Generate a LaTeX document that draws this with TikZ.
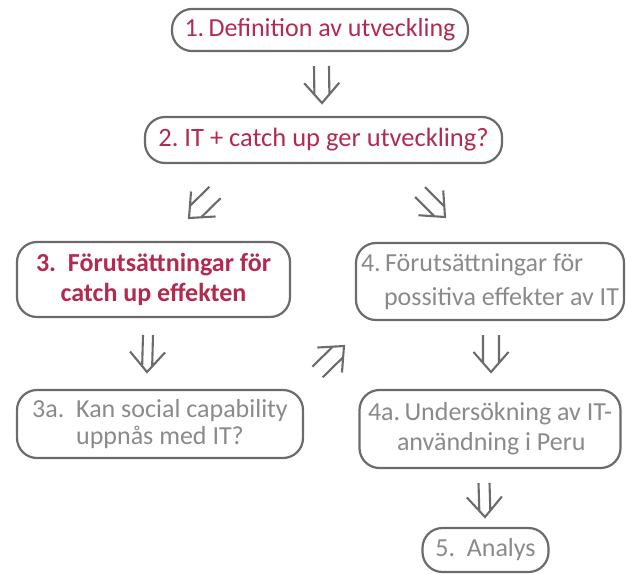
\documentclass[tikz,border=0pt]{standalone}
\usepackage{fontspec}
\setmainfont{Carlito}
\usetikzlibrary{decorations.markings}

\definecolor{framegray}{HTML}{6B6B6B}
\definecolor{textgray}{HTML}{8A8A8A}
\definecolor{accent}{HTML}{B22A50}

\tikzset{
  box/.style={draw=framegray, line width=2.2pt, rounded corners=20pt,
    inner sep=0pt, align=center},
  redtext/.style={text=accent},
  graytext/.style={text=textgray},
  arrowstroke/.style={draw=framegray, line width=2.1pt, line cap=butt, line join=miter},
  % hollow double-shafted arrow: two parallel shafts and an open head at the path end
  dblarrow/.style={decoration={markings, mark=at position 1 with {
      \pgfmathsetmacro\arrlen{\pgfdecoratedpathlength}
      \pgfmathsetmacro\shaftend{20*#1/17.5}
      \draw[arrowstroke] (-\arrlen,#1) -- (-\shaftend,#1)
                         (-\arrlen,-#1) -- (-\shaftend,-#1)
                         (-20,17.5) -- (0,0) -- (-20,-17.5);}},
    postaction=decorate},
  dblarrow/.default=7.5
}

\begin{document}
\begin{tikzpicture}[x=1pt,y=-1pt]
\useasboundingbox (0,0) rectangle (626,573);

% boxes
\node[box, redtext, minimum width=296pt, minimum height=42pt,
      font=\fontsize{26}{29}\selectfont] (def) at (320,30)
      {1.\,Definition av utveckling};
\node[box, redtext, minimum width=357pt, minimum height=46pt,
      font=\fontsize{26.5}{29}\selectfont] (catch) at (323.5,140)
      {2.\ IT + catch up ger utveckling?};
\node[box, redtext, minimum width=273pt, minimum height=75pt,
      font=\fontsize{26}{30}\selectfont\bfseries] (pre3) at (153.5,279.5)
      {3.\ \ Förutsättningar för\\catch up effekten};
\node[box, graytext, minimum width=268pt, minimum height=77pt, align=left,
      font=\fontsize{26}{34}\selectfont] (pre4) at (490,281.5)
      {4.\,Förutsättningar för\\\hspace*{23pt}possitiva effekter av IT};
\node[box, graytext, minimum width=286pt, minimum height=68pt,
      font=\fontsize{26}{27}\selectfont] (soc) at (160,424)
      {3a.\ \ Kan social capability\\uppnås med IT?};
\node[box, graytext, minimum width=261pt, minimum height=78pt, align=left,
      font=\fontsize{26}{30}\selectfont] (peru) at (490,429)
      {4a.\,Undersökning av IT-\\\hspace*{29pt}användning i Peru};
\node[box, graytext, minimum width=126pt, minimum height=44pt,
      font=\fontsize{26}{29}\selectfont] (ana) at (485.5,550)
      {5.\ \ Analys};

% arrow end points
\coordinate (a1s) at (321.5,66);  \coordinate (a1t) at (322,103);
\coordinate (a2s) at (215,192.5); \coordinate (a2t) at (189,218);
\coordinate (a3s) at (420,192);   \coordinate (a3t) at (445,217);
\coordinate (a4s) at (148,335);   \coordinate (a4t) at (147,372);
\coordinate (a5s) at (317.5,372); \coordinate (a5t) at (344,346);
\coordinate (a6s) at (491,335);   \coordinate (a6t) at (491,372);
\coordinate (a7s) at (484,483);   \coordinate (a7t) at (485,517);

\path[dblarrow=7.5] (a1s) -- (a1t);
\path[dblarrow=8]   (a2s) -- (a2t);
\path[dblarrow=7]   (a3s) -- (a3t);
\path[dblarrow=5]   (a4s) -- (a4t);
\path[dblarrow=7.4] (a5s) -- (a5t);
\path[dblarrow=8]   (a6s) -- (a6t);
\path[dblarrow=5.5] (a7s) -- (a7t);
\end{tikzpicture}
\end{document}
